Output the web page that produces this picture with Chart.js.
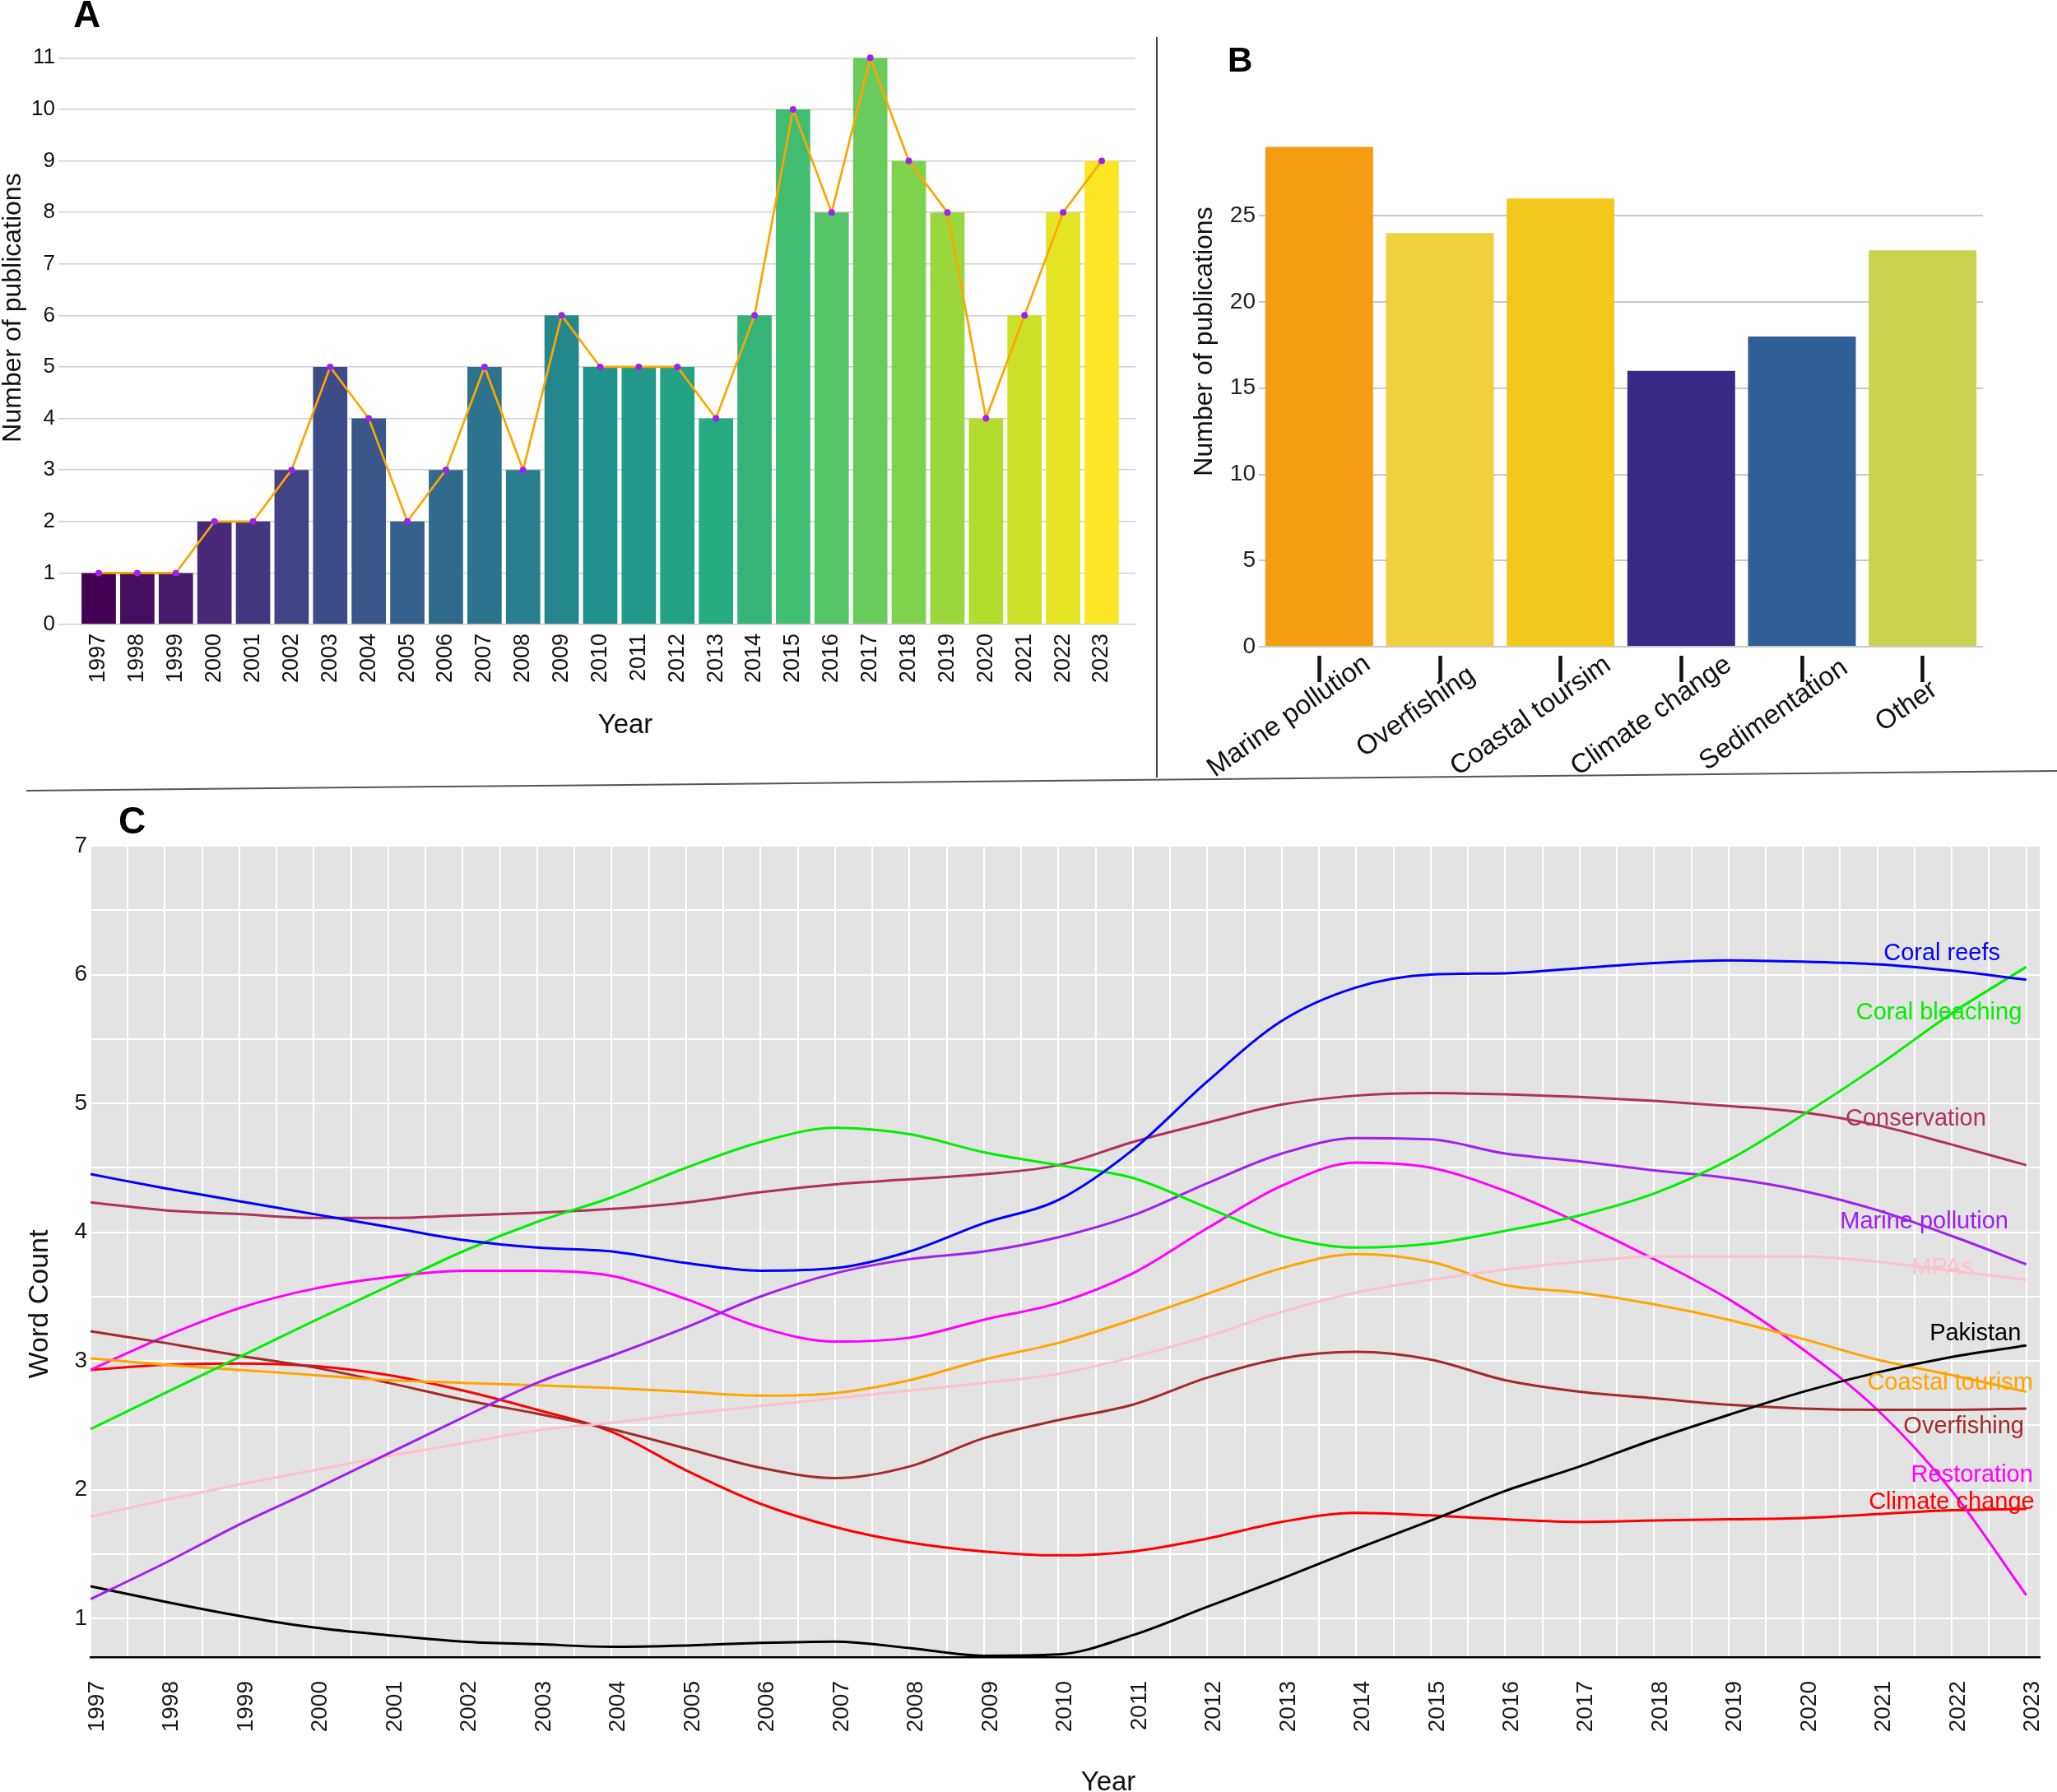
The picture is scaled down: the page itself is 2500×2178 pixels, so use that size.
<!DOCTYPE html>
<html lang="en">
<head>
<meta charset="UTF-8">
<title>Publications and word counts</title>
<script src="https://cdn.jsdelivr.net/npm/chart.js@4.4.0/dist/chart.umd.min.js"></script>
<style>
  body { margin: 0; background: #fff; font-family: "Liberation Sans", Arial, sans-serif; }
  #page { position: relative; width: 2500px; height: 2178px; overflow: hidden; background: #fff; }
  #page canvas { position: absolute; }
  .tag { position: absolute; font-weight: bold; line-height: 1; color: #000; }
  .axt { position: absolute; line-height: 1; color: #111; white-space: nowrap; transform: translate(-50%, -50%); }
  .axt.rot { transform: translate(-50%, -50%) rotate(-90deg); }
</style>
</head>
<body>
<div id="page">
  <canvas id="chartA" width="1400" height="950" style="left:0;top:0"></canvas>
  <canvas id="chartB" width="1090" height="950" style="left:1410px;top:0"></canvas>
  <canvas id="chartC" width="2500" height="1218" style="left:0;top:960px"></canvas>
  <svg width="2500" height="2178" style="position:absolute;left:0;top:0;pointer-events:none">
    <line x1="1406" y1="45" x2="1406" y2="945" stroke="#444" stroke-width="2"/>
    <line x1="32" y1="961" x2="2500" y2="937" stroke="#555" stroke-width="2"/>
  </svg>
  <div class="tag" style="left:89px;top:-6px;font-size:46px">A</div>
  <div class="tag" style="left:1492px;top:52px;font-size:42px">B</div>
  <div class="tag" style="left:144px;top:974px;font-size:46px">C</div>
  <!-- axis titles -->
  <div class="axt" style="left:760px;top:879px;font-size:33px">Year</div>
  <div class="axt rot" style="left:14px;top:374px;font-size:32px">Number of publications</div>
  <div class="axt rot" style="left:1462px;top:415px;font-size:32px">Number of publications</div>
  <div class="axt" style="left:1347px;top:2164px;font-size:33px">Year</div>
  <div class="axt rot" style="left:46px;top:1585px;font-size:34px">Word Count</div>
</div>
<script>
// ---- data ----
const years = [1997, 1998, 1999, 2000, 2001, 2002, 2003, 2004, 2005, 2006, 2007, 2008, 2009, 2010,
               2011, 2012, 2013, 2014, 2015, 2016, 2017, 2018, 2019, 2020, 2021, 2022, 2023];
const pubCounts = [1, 1, 1, 2, 2, 3, 5, 4, 2, 3, 5, 3, 6, 5, 5, 5, 4, 6, 10, 8, 11, 9, 8, 4, 6, 8, 9];

const threats = ['Marine pollution', 'Overfishing', 'Coastal toursim', 'Climate change', 'Sedimentation', 'Other'];
const threatCounts = [29, 24, 26, 16, 18, 23];

const coralReefs      = [4.45, 4.34, 4.24, 4.14, 4.04, 3.94, 3.88, 3.85, 3.76, 3.70, 3.72, 3.85, 4.07, 4.25,
                         4.64, 5.17, 5.64, 5.90, 6.00, 6.01, 6.05, 6.09, 6.11, 6.10, 6.08, 6.03, 5.96];
const coralBleaching  = [2.47, 2.75, 3.03, 3.31, 3.58, 3.85, 4.08, 4.27, 4.50, 4.70, 4.81, 4.76, 4.62, 4.52,
                         4.42, 4.19, 3.97, 3.88, 3.91, 4.01, 4.13, 4.30, 4.56, 4.91, 5.29, 5.70, 6.06];
const conservation    = [4.23, 4.17, 4.14, 4.11, 4.11, 4.13, 4.15, 4.18, 4.23, 4.31, 4.37, 4.41, 4.45, 4.52,
                         4.70, 4.85, 4.99, 5.06, 5.08, 5.07, 5.05, 5.02, 4.98, 4.93, 4.83, 4.68, 4.52];
const marinePollution = [1.15, 1.43, 1.73, 2.00, 2.28, 2.56, 2.83, 3.04, 3.26, 3.50, 3.68, 3.79, 3.85, 3.96,
                         4.13, 4.38, 4.61, 4.73, 4.72, 4.61, 4.55, 4.48, 4.42, 4.32, 4.17, 3.97, 3.75];
const mpas            = [1.79, 1.92, 2.04, 2.15, 2.26, 2.36, 2.46, 2.52, 2.59, 2.65, 2.71, 2.77, 2.83, 2.90,
                         3.03, 3.19, 3.38, 3.53, 3.63, 3.71, 3.77, 3.81, 3.81, 3.81, 3.77, 3.70, 3.63];
const pakistan        = [1.25, 1.13, 1.02, 0.93, 0.87, 0.82, 0.80, 0.78, 0.79, 0.81, 0.82, 0.77, 0.71, 0.72,
                         0.87, 1.09, 1.31, 1.54, 1.76, 1.99, 2.18, 2.39, 2.58, 2.76, 2.91, 3.03, 3.12];
const coastalTourism  = [3.02, 2.97, 2.93, 2.89, 2.85, 2.83, 2.81, 2.79, 2.76, 2.73, 2.75, 2.85, 3.01, 3.14,
                         3.32, 3.52, 3.72, 3.83, 3.77, 3.59, 3.53, 3.44, 3.32, 3.17, 3.01, 2.89, 2.76];
const overfishing     = [3.23, 3.14, 3.04, 2.95, 2.83, 2.70, 2.59, 2.47, 2.32, 2.17, 2.09, 2.18, 2.40, 2.54,
                         2.66, 2.87, 3.02, 3.07, 3.01, 2.85, 2.76, 2.71, 2.66, 2.63, 2.62, 2.62, 2.63];
const restoration     = [2.93, 3.19, 3.41, 3.56, 3.65, 3.70, 3.70, 3.66, 3.48, 3.26, 3.15, 3.18, 3.32, 3.45,
                         3.68, 4.03, 4.36, 4.54, 4.50, 4.32, 4.07, 3.79, 3.48, 3.09, 2.62, 1.99, 1.18];
const climateChange   = [2.93, 2.97, 2.98, 2.96, 2.89, 2.77, 2.62, 2.45, 2.15, 1.89, 1.71, 1.59, 1.52, 1.49,
                         1.52, 1.62, 1.75, 1.82, 1.80, 1.77, 1.75, 1.76, 1.77, 1.78, 1.81, 1.84, 1.85];

const seriesNames  = ['Coral reefs', 'Coral bleaching', 'Conservation', 'Marine pollution', 'MPAs',
                      'Pakistan', 'Coastal tourism', 'Overfishing', 'Restoration', 'Climate change'];
const seriesValues = [coralReefs, coralBleaching, conservation, marinePollution, mpas,
                      pakistan, coastalTourism, overfishing, restoration, climateChange];
// where each end label sits (right edge year, value)
const labelYear  = [2022.65, 2022.94, 2022.46, 2022.76, 2022.29, 2022.93, 2023.09, 2022.97, 2023.09, 2023.11];
const labelValue = [6.16, 5.70, 4.88, 4.08, 3.72, 3.21, 2.83, 2.49, 2.11, 1.90];

// ---- styles ----
const FONT = '"Liberation Sans", Arial, sans-serif';
Chart.defaults.font.family = FONT;
Chart.defaults.color = '#1a1a1a';

const seriesColors = ['#0000ff', '#00ee00', '#b03060', '#a020f0', '#ffc0cb',
                      '#000000', '#ffa500', '#a52a2a', '#ff00ff', '#ff0000'];
const threatColors = ['#f49d12', '#efd03f', '#f2c81d', '#372a84', '#305e96', '#cad350'];

const viridisStops = ['#440154', '#482475', '#414487', '#355f8d', '#2a788e', '#21918c',
                      '#22a884', '#44bf70', '#7ad151', '#bddf26', '#fde725'];
function viridis(t) {
  const p = t * 10, i = Math.min(9, Math.floor(p)), f = p - i;
  const a = viridisStops[i], b = viridisStops[i + 1];
  const ch = k => {
    const u = parseInt(a.substr(k, 2), 16), v = parseInt(b.substr(k, 2), 16);
    return Math.round(u + (v - u) * f);
  };
  return `rgb(${ch(1)},${ch(3)},${ch(5)})`;
}

// fixed axis box sizes so the plot areas land where the figure has them
const fixHeight = h => s => { s.height = h; s.paddingLeft = 0; s.paddingRight = 0; };
const fixWidth = w => s => { s.width = w; s.paddingTop = 0; s.paddingBottom = 0; };

const plotBg = {
  id: 'plotBg',
  beforeDraw(chart, args, opts) {
    if (!opts.color) return;
    const {ctx, chartArea: a} = chart;
    ctx.save();
    ctx.fillStyle = opts.color;
    ctx.fillRect(a.left, a.top, a.right - a.left, a.bottom - a.top);
    ctx.restore();
  }
};

// ---- A: publications per year ----
const yearPoints = years.map((y, i) => ({x: y, y: pubCounts[i]}));
new Chart(document.getElementById('chartA'), {
  type: 'bar',
  data: {
    datasets: [
      {
        type: 'line', order: 0, data: yearPoints,
        borderColor: '#ffa500', borderWidth: 2.7, tension: 0,
        pointRadius: 4, pointBackgroundColor: '#a020f0', pointBorderWidth: 0
      },
      {
        type: 'bar', order: 1, data: yearPoints,
        backgroundColor: years.map((_, i) => viridis(i / (years.length - 1))),
        barPercentage: 1, categoryPercentage: 0.89
      }
    ]
  },
  options: {
    responsive: false, devicePixelRatio: 1, animation: false,
    layout: {padding: {top: 39, right: 20, bottom: 0, left: 0}},
    plugins: {legend: {display: false}, tooltip: {enabled: false}},
    scales: {
      x: {
        type: 'linear', min: 1995.955, max: 2023.875, offset: false,
        grid: {display: false, drawTicks: false}, border: {display: false},
        afterBuildTicks: s => { s.ticks = years.map(v => ({value: v})); },
        afterFit: fixHeight(191),
        ticks: {autoSkip: false, minRotation: 90, maxRotation: 90, padding: 11,
                font: {size: 27}, color: '#111', callback: v => String(v)}
      },
      y: {
        min: 0, max: 11.5,
        ticks: {stepSize: 1, includeBounds: false, padding: 4, font: {size: 26}, color: '#111'},
        grid: {color: '#cfcfcf', lineWidth: 1.5, drawTicks: false}, border: {display: false},
        afterFit: fixWidth(71)
      }
    }
  }
});

// ---- B: publications per threat ----
// slanted category labels, anchored a little left of the tick, 64% of the text before the anchor
const slantedLabels = {
  id: 'slantedLabels',
  afterDraw(chart) {
    const {ctx, scales: {x}} = chart;
    ctx.save();
    ctx.font = '33px ' + FONT;
    ctx.fillStyle = '#111';
    ctx.textAlign = 'left';
    ctx.textBaseline = 'middle';
    chart.data.labels.forEach((lab, i) => {
      const w = ctx.measureText(lab).width;
      ctx.save();
      ctx.translate(x.getPixelForValue(i) - 10, x.top + 66);
      ctx.rotate(-35 * Math.PI / 180);
      ctx.fillText(lab, -0.64 * w, 0);
      ctx.restore();
    });
    ctx.restore();
  }
};

new Chart(document.getElementById('chartB'), {
  type: 'bar',
  data: {
    labels: threats,
    datasets: [{data: threatCounts, backgroundColor: threatColors, barPercentage: 1, categoryPercentage: 0.893}]
  },
  options: {
    responsive: false, devicePixelRatio: 1, animation: false,
    layout: {padding: {top: 168, right: 90, bottom: 0, left: 0}},
    plugins: {legend: {display: false}, tooltip: {enabled: false}},
    scales: {
      x: {
        ticks: {display: false},
        grid: {display: true, offset: false, drawOnChartArea: false, drawTicks: true,
               tickLength: 43, tickColor: '#111', tickWidth: 4.5, tickBorderDash: [0, 11, 32, 100]},
        border: {display: false},
        afterFit: fixHeight(164)
      },
      y: {
        min: 0, max: 29.5,
        ticks: {stepSize: 5, includeBounds: false, padding: 4, font: {size: 28}, color: '#222'},
        grid: {color: '#c8c8c8', lineWidth: 2, drawTicks: false}, border: {display: false},
        afterFit: fixWidth(120)
      }
    }
  },
  plugins: [slantedLabels]
});

// ---- C: word counts over time ----
const endLabels = {
  id: 'endLabels',
  afterDatasetsDraw(chart) {
    const {ctx, scales: {x, y}} = chart;
    ctx.save();
    ctx.font = '29px ' + FONT;
    ctx.textAlign = 'right';
    ctx.textBaseline = 'middle';
    seriesNames.forEach((name, i) => {
      ctx.fillStyle = seriesColors[i];
      ctx.fillText(name, x.getPixelForValue(labelYear[i]), y.getPixelForValue(labelValue[i]));
    });
    ctx.restore();
  }
};

new Chart(document.getElementById('chartC'), {
  type: 'line',
  data: {
    datasets: seriesNames.map((name, i) => ({
      label: name,
      data: years.map((yr, j) => ({x: yr, y: seriesValues[i][j]})),
      borderColor: seriesColors[i], borderWidth: 3,
      pointRadius: 0, cubicInterpolationMode: 'monotone'
    }))
  },
  options: {
    responsive: false, devicePixelRatio: 1, animation: false,
    layout: {padding: {top: 68, right: 21, bottom: 0, left: 0}},
    plugins: {legend: {display: false}, tooltip: {enabled: false}, plotBg: {color: '#e3e3e3'}},
    scales: {
      x: {
        type: 'linear', min: 1997, max: 2023.18,
        ticks: {stepSize: 0.5, includeBounds: false, autoSkip: false, minRotation: 90, maxRotation: 90,
                padding: 29, labelOffset: 8, font: {size: 28}, color: '#1a1a1a',
                callback: v => Number.isInteger(v) ? String(v) : ''},
        grid: {color: '#ffffff', lineWidth: 2, drawTicks: false},
        border: {display: true, color: '#000', width: 2.5},
        afterFit: fixHeight(164)
      },
      y: {
        min: 0.7, max: 7,
        ticks: {stepSize: 0.5, includeBounds: false, padding: 4, font: {size: 28}, color: '#1a1a1a',
                callback: v => Number.isInteger(v) ? String(v) : ''},
        grid: {color: '#ffffff', lineWidth: 2, drawTicks: false}, border: {display: false},
        afterFit: fixWidth(110)
      }
    }
  },
  plugins: [plotBg, endLabels]
});
</script>
</body>
</html>
